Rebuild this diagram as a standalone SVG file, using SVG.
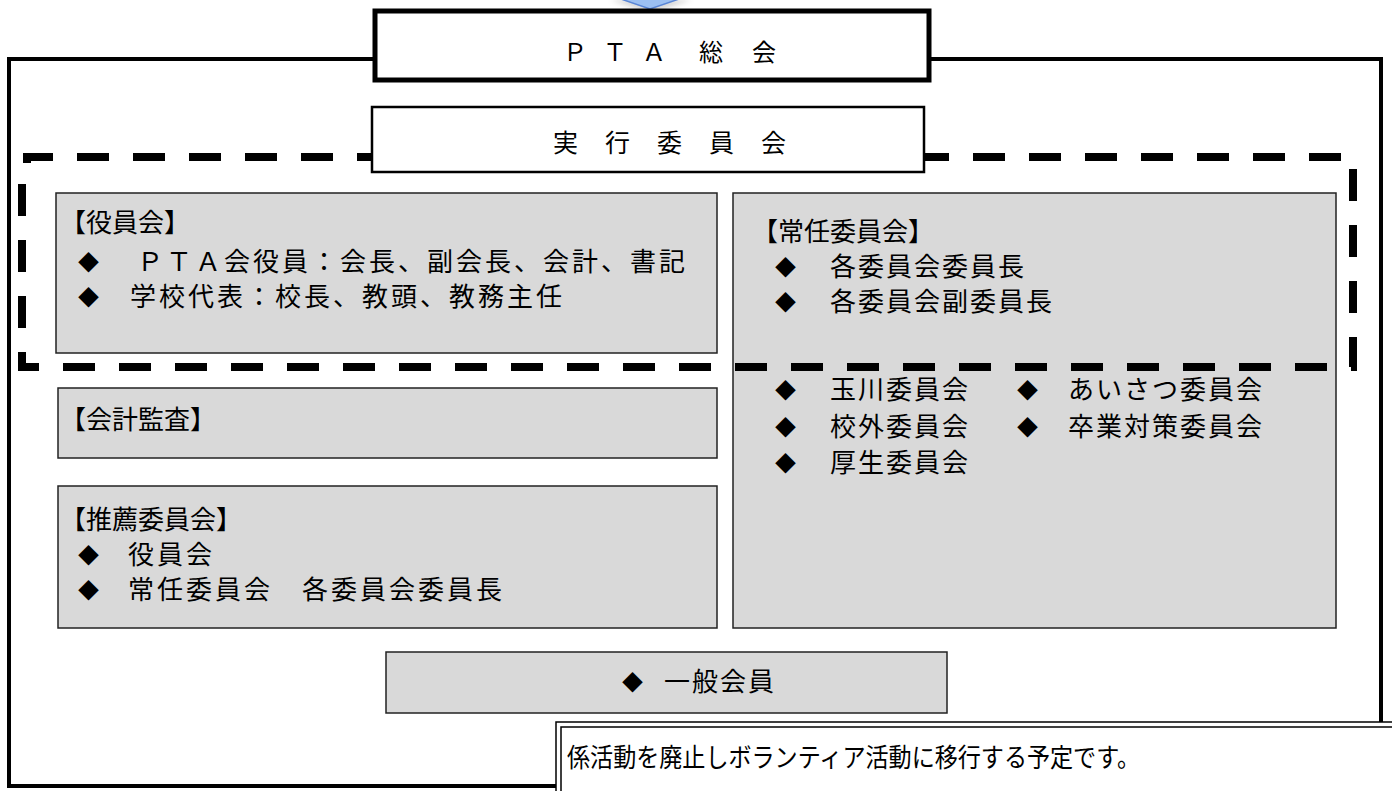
<svg xmlns="http://www.w3.org/2000/svg" width="1392" height="791" viewBox="0 0 1392 791">
<style>
.t{font-family:"Noto Sans CJK JP","Noto Sans",sans-serif;font-size:26px;letter-spacing:2px;fill:#000}
.l{letter-spacing:3px}
.h{font-family:"Noto Sans CJK JP","Noto Sans",sans-serif;font-size:26px;fill:#000}
.d{font-family:"Noto Sans CJK JP","Noto Sans",sans-serif;font-size:21px;fill:#000}
.c{font-family:"Noto Sans CJK JP","Noto Sans",sans-serif;font-size:24px;fill:#000}
.n{font-family:"Noto Sans CJK JP","Noto Sans",sans-serif;font-size:25px;fill:#000}
.gray{fill:#D9D9D9;stroke:#222;stroke-width:1.5}
.frame{fill:none;stroke:#000;stroke-width:4}
</style>
<defs>
<filter id="sh" x="-30%" y="-100%" width="160%" height="300%">
<feGaussianBlur stdDeviation="2.5"/>
</filter>
</defs>
<rect width="1392" height="791" fill="#fff"/>
<g id="connectors">
<path class="frame" d="M375,59 H9 V786 H556"/>
<path class="frame" d="M929,59 H1381 V726"/>
</g>
<g id="arrow">
<polygon points="610,0 692,0 651,13" fill="#888" opacity="0.35" filter="url(#sh)"/>
<polygon points="618,-2 682,-2 650,9" fill="#9CC0F2" stroke="#5A86D6" stroke-width="1.5"/>
</g>
<g id="yakuin">
<rect class="gray" x="56" y="193" width="661" height="160"/>
<text class="h" x="60" y="232">【役員会】</text>
<text class="d" x="78" y="270">◆</text>
<text class="t l" x="137" y="271">ＰＴＡ会役員：会長、副会長、会計、書記</text>
<text class="d" x="78" y="305">◆</text>
<text class="t l" x="130" y="306">学校代表：校長、教頭、教務主任</text>
</g>
<g id="jounin">
<rect class="gray" x="733" y="193" width="603" height="435"/>
<text class="h" x="752" y="241">【常任委員会】</text>
<text class="d" x="775" y="275">◆</text>
<text class="t" x="830" y="276">各委員会委員長</text>
<text class="d" x="775" y="310">◆</text>
<text class="t" x="830" y="311">各委員会副委員長</text>
<text class="d" x="775" y="398">◆</text>
<text class="t" x="830" y="399">玉川委員会</text>
<text class="d" x="775" y="435">◆</text>
<text class="t" x="830" y="436">校外委員会</text>
<text class="d" x="775" y="471">◆</text>
<text class="t" x="830" y="472">厚生委員会</text>
<text class="d" x="1017" y="398">◆</text>
<text class="t" x="1068" y="399">あいさつ委員会</text>
<text class="d" x="1017" y="435">◆</text>
<text class="t" x="1068" y="436">卒業対策委員会</text>
</g>
<g id="kansa">
<rect class="gray" x="58" y="388" width="659" height="70"/>
<text class="h" x="60" y="429">【会計監査】</text>
</g>
<g id="suisen">
<rect class="gray" x="58" y="486" width="659" height="142"/>
<text class="h" x="60" y="529">【推薦委員会】</text>
<text class="d" x="78" y="563">◆</text>
<text class="t l" x="128" y="564">役員会</text>
<text class="d" x="78" y="598">◆</text>
<text class="t l" x="128" y="599">常任委員会　各委員会委員長</text>
</g>
<g id="dashed">
<path d="M27,163 V157 H1353 V367 H22 V163" fill="none" stroke="#000" stroke-width="8" stroke-dasharray="32 24"/>
</g>
<g id="ippan">
<rect class="gray" x="386" y="652" width="561" height="61"/>
<text class="d" x="622" y="690">◆</text>
<text class="t" x="664" y="691">一般会員</text>
</g>
<g id="pta">
<rect x="375" y="11" width="554" height="69" fill="#fff" stroke="#000" stroke-width="5"/>
<text class="c" x="563 603 642 699 752" y="61">ＰＴＡ総会</text>
</g>
<g id="jikkou">
<rect x="372" y="107" width="552" height="65" fill="#fff" stroke="#000" stroke-width="2.5"/>
<text class="n" x="553 605 657 709 761" y="152">実行委員会</text>
</g>
<g id="note">
<rect x="556" y="722" width="840" height="75" fill="#fff" stroke="#000" stroke-width="1.5"/>
<rect x="561" y="727" width="840" height="70" fill="#fff" stroke="#000" stroke-width="1.5"/>
<text class="h" x="567" y="767" textLength="573" lengthAdjust="spacingAndGlyphs">係活動を廃止しボランティア活動に移行する予定です。</text>
</g>
</svg>
